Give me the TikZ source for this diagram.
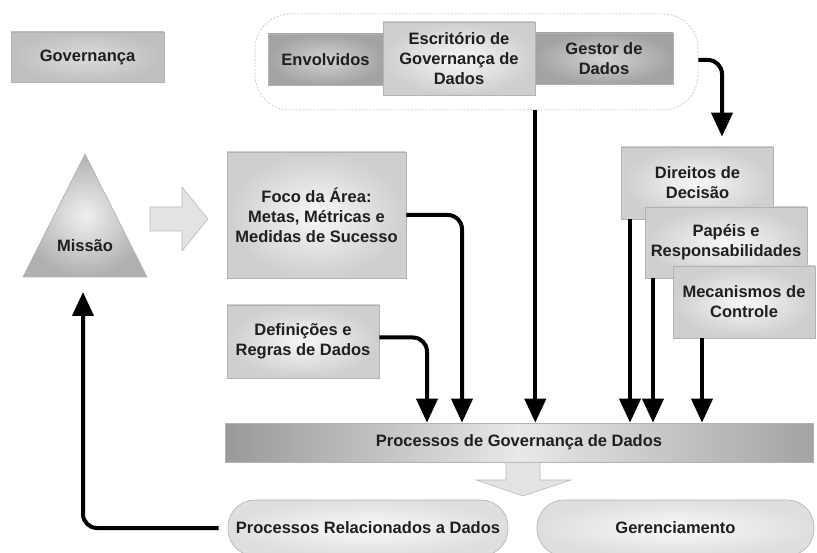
\documentclass[tikz,border=0pt]{standalone}
\usepackage{fontspec}
\setmainfont{Liberation Sans}
\usetikzlibrary{arrows.meta,calc}
\begin{document}
\begin{tikzpicture}[x=1pt,y=-1pt,
  every node/.style={font=\bfseries\fontsize{16.5}{20}\selectfont, align=center, inner sep=0pt, text=black!88},
  lightbox/.style={draw=gray!60, line width=0.6pt, inner color=gray!6, outer color=gray!38},
  darkbox/.style={draw=gray!60, line width=0.6pt, inner color=gray!35, outer color=gray!72},
  midbox/.style={draw=gray!60, line width=0.6pt, inner color=gray!28, outer color=gray!50},
  barbox/.style={draw=gray!60, line width=0.6pt, left color=gray!80, right color=gray!72, middle color=gray!18},
  pill/.style={draw=gray!60, line width=0.6pt, inner color=gray!4, outer color=gray!26, rounded corners=27pt},
  grpbox/.style={draw=gray!60, line width=0.5pt, dash pattern=on 2pt off 1.5pt, rounded corners=35pt},
  blockarrow/.style={fill=gray!22, draw=gray!55, line width=0.6pt},
  conn/.style={line width=4pt, -{Triangle[width=21pt,length=24pt]}, rounded corners=14pt}
]
\useasboundingbox (0,0) rectangle (817,553);

% top row
\node[midbox, minimum width=153, minimum height=50] (gov) at (87.5,57) {Governança};
\node[grpbox, minimum width=443, minimum height=96] (grp) at (476.5,62) {};
\node[darkbox, minimum width=115, minimum height=51] (env) at (325.5,59.5) {Envolvidos};
\node[darkbox, minimum width=138, minimum height=51] (gest) at (604,58.5) {Gestor de\\Dados};
\node[lightbox, minimum width=152, minimum height=73] (esc) at (459,58.5) {Escritório de\\Governança de\\Dados};

% mission triangle
\shade[inner color=gray!12, outer color=gray!62, draw=gray!60, line width=0.6pt] (85,154) -- (147,277) -- (23,277) -- cycle;
\node (mis) at (85,246) {Missão};
\coordinate (misbase) at (83,277);

% block arrow right
\filldraw[blockarrow] (150,207) -- (182,207) -- (182,187) -- (208,219) -- (182,251) -- (182,231) -- (150,231) -- cycle;

% middle boxes
\node[lightbox, minimum width=179, minimum height=126] (foco) at (316.5,215) {Foco da Área:\\Metas, Métricas e\\Medidas de Sucesso};
\node[lightbox, minimum width=152, minimum height=73] (defs) at (303,341.5) {Definições e\\Regras de Dados};

\node[lightbox, minimum width=152, minimum height=72] (dir) at (697.5,183) {Direitos de\\Decisão};
\node[lightbox, minimum width=162, minimum height=71] (pap) at (726,242.5) {Papéis e\\Responsabilidades};
\node[lightbox, minimum width=142, minimum height=72] (mec) at (744,302) {Mecanismos de\\Controle};

% bar
\node[barbox, minimum width=588, minimum height=39] (bar) at (519,442.5) {Processos de Governança de Dados};

% block arrow down
\filldraw[blockarrow] (506,462.5) -- (540,462.5) -- (540,480) -- (571,480) -- (523,496) -- (476,480) -- (506,480) -- cycle;

% pills
\node[pill, minimum width=280, minimum height=56] (rel) at (368,528) {Processos Relacionados a Dados};
\node[pill, minimum width=277, minimum height=56] (ger) at (675.5,528) {Gerenciamento};

% x positions of connectors
\coordinate (xG) at (722,0);
\coordinate (xF) at (462,0);
\coordinate (xR) at (427,0);
\coordinate (xD) at (630,0);
\coordinate (xP) at (653,0);
\coordinate (xM) at (702,0);

% connectors
\draw[conn, shorten >=10pt] (grp.east |- 0,60) -| (xG |- dir.north);
\draw[conn] (esc.east |- grp.south) -- (esc.east |- bar.north);
\draw[conn] (foco.east) -| (xF |- bar.north);
\draw[conn] ([yshift=4pt]defs.east) -| (xR |- bar.north);
\draw[conn] (xD |- dir.south) -- (xD |- bar.north);
\draw[conn] (xP |- pap.south) -- (xP |- bar.north);
\draw[conn] (xM |- mec.south) -- (xM |- bar.north);
\draw[conn, shorten <=9pt, shorten >=15pt] (rel.west) -| (misbase);
\end{tikzpicture}
\end{document}
